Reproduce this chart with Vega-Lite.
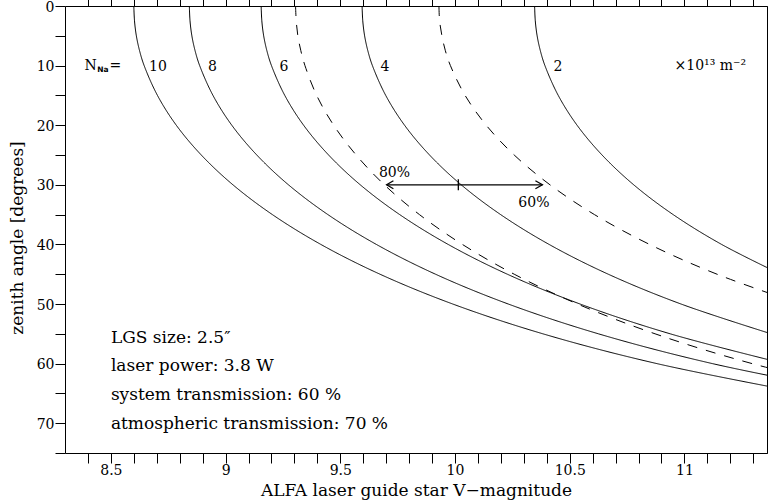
{
  "$schema": "https://vega.github.io/schema/vega-lite/v6.json",
  "width": 702,
  "height": 447,
  "autosize": {"type": "none"},
  "padding": {"left": 65, "top": 6, "right": 1, "bottom": 48},
  "background": "white",
  "config": {
    "view": {"stroke": null},
    "axis": {
      "domainColor": "black", "tickColor": "black", "labelColor": "black", "titleColor": "black",
      "labelFont": "DejaVu Serif", "titleFont": "DejaVu Serif", "labelFontSize": 14, "titleFontSize": 17,
      "titleFontWeight": "normal", "grid": false, "domainWidth": 1, "tickWidth": 1,
      "labelOverlap": false, "labelFlush": false
    }
  },
  "datasets": {
    "curves": [
      {"c":"10","t":"solid","z":0,"x":8.600},{"c":"10","t":"solid","z":2.5,"x":8.603},{"c":"10","t":"solid","z":5,"x":8.611},{"c":"10","t":"solid","z":7.5,"x":8.625},{"c":"10","t":"solid","z":10,"x":8.645},{"c":"10","t":"solid","z":15,"x":8.703},{"c":"10","t":"solid","z":20,"x":8.785},{"c":"10","t":"solid","z":25,"x":8.894},{"c":"10","t":"solid","z":30,"x":9.032},{"c":"10","t":"solid","z":35,"x":9.204},{"c":"10","t":"solid","z":40,"x":9.415},{"c":"10","t":"solid","z":45,"x":9.673},{"c":"10","t":"solid","z":50,"x":9.990},{"c":"10","t":"solid","z":55,"x":10.383},{"c":"10","t":"solid","z":60,"x":10.880},{"c":"10","t":"solid","z":65,"x":11.528},
      {"c":"8","t":"solid","z":0,"x":8.842},{"c":"8","t":"solid","z":2.5,"x":8.845},{"c":"8","t":"solid","z":5,"x":8.853},{"c":"8","t":"solid","z":7.5,"x":8.867},{"c":"8","t":"solid","z":10,"x":8.887},{"c":"8","t":"solid","z":15,"x":8.945},{"c":"8","t":"solid","z":20,"x":9.027},{"c":"8","t":"solid","z":25,"x":9.136},{"c":"8","t":"solid","z":30,"x":9.274},{"c":"8","t":"solid","z":35,"x":9.446},{"c":"8","t":"solid","z":40,"x":9.657},{"c":"8","t":"solid","z":45,"x":9.915},{"c":"8","t":"solid","z":50,"x":10.232},{"c":"8","t":"solid","z":55,"x":10.625},{"c":"8","t":"solid","z":60,"x":11.122},{"c":"8","t":"solid","z":65,"x":11.770},
      {"c":"6","t":"solid","z":0,"x":9.155},{"c":"6","t":"solid","z":2.5,"x":9.158},{"c":"6","t":"solid","z":5,"x":9.166},{"c":"6","t":"solid","z":7.5,"x":9.180},{"c":"6","t":"solid","z":10,"x":9.200},{"c":"6","t":"solid","z":15,"x":9.258},{"c":"6","t":"solid","z":20,"x":9.340},{"c":"6","t":"solid","z":25,"x":9.449},{"c":"6","t":"solid","z":30,"x":9.587},{"c":"6","t":"solid","z":35,"x":9.759},{"c":"6","t":"solid","z":40,"x":9.970},{"c":"6","t":"solid","z":45,"x":10.228},{"c":"6","t":"solid","z":50,"x":10.545},{"c":"6","t":"solid","z":55,"x":10.938},{"c":"6","t":"solid","z":60,"x":11.435},
      {"c":"4","t":"solid","z":0,"x":9.595},{"c":"4","t":"solid","z":2.5,"x":9.598},{"c":"4","t":"solid","z":5,"x":9.606},{"c":"4","t":"solid","z":7.5,"x":9.620},{"c":"4","t":"solid","z":10,"x":9.640},{"c":"4","t":"solid","z":15,"x":9.698},{"c":"4","t":"solid","z":20,"x":9.780},{"c":"4","t":"solid","z":25,"x":9.889},{"c":"4","t":"solid","z":30,"x":10.027},{"c":"4","t":"solid","z":35,"x":10.199},{"c":"4","t":"solid","z":40,"x":10.410},{"c":"4","t":"solid","z":45,"x":10.668},{"c":"4","t":"solid","z":50,"x":10.985},{"c":"4","t":"solid","z":55,"x":11.378},
      {"c":"2","t":"solid","z":0,"x":10.347},{"c":"2","t":"solid","z":2.5,"x":10.350},{"c":"2","t":"solid","z":5,"x":10.358},{"c":"2","t":"solid","z":7.5,"x":10.372},{"c":"2","t":"solid","z":10,"x":10.392},{"c":"2","t":"solid","z":15,"x":10.450},{"c":"2","t":"solid","z":20,"x":10.532},{"c":"2","t":"solid","z":25,"x":10.641},{"c":"2","t":"solid","z":30,"x":10.779},{"c":"2","t":"solid","z":35,"x":10.951},{"c":"2","t":"solid","z":40,"x":11.162},{"c":"2","t":"solid","z":45,"x":11.420},
      {"c":"4-80","t":"dashed","z":0,"x":9.305},{"c":"4-80","t":"dashed","z":2.5,"x":9.308},{"c":"4-80","t":"dashed","z":5,"x":9.315},{"c":"4-80","t":"dashed","z":7.5,"x":9.328},{"c":"4-80","t":"dashed","z":10,"x":9.346},{"c":"4-80","t":"dashed","z":15,"x":9.397},{"c":"4-80","t":"dashed","z":20,"x":9.471},{"c":"4-80","t":"dashed","z":25,"x":9.569},{"c":"4-80","t":"dashed","z":30,"x":9.692},{"c":"4-80","t":"dashed","z":35,"x":9.845},{"c":"4-80","t":"dashed","z":40,"x":10.032},{"c":"4-80","t":"dashed","z":45,"x":10.258},{"c":"4-80","t":"dashed","z":50,"x":10.534},{"c":"4-80","t":"dashed","z":55,"x":10.872},{"c":"4-80","t":"dashed","z":60,"x":11.295},{"c":"4-80","t":"dashed","z":65,"x":11.837},
      {"c":"4-60","t":"dashed","z":0,"x":9.930},{"c":"4-60","t":"dashed","z":2.5,"x":9.933},{"c":"4-60","t":"dashed","z":5,"x":9.943},{"c":"4-60","t":"dashed","z":7.5,"x":9.958},{"c":"4-60","t":"dashed","z":10,"x":9.980},{"c":"4-60","t":"dashed","z":15,"x":10.044},{"c":"4-60","t":"dashed","z":20,"x":10.136},{"c":"4-60","t":"dashed","z":25,"x":10.258},{"c":"4-60","t":"dashed","z":30,"x":10.414},{"c":"4-60","t":"dashed","z":35,"x":10.608},{"c":"4-60","t":"dashed","z":40,"x":10.848},{"c":"4-60","t":"dashed","z":45,"x":11.142},{"c":"4-60","t":"dashed","z":50,"x":11.506}
    ],
    "arrow": [
      {"seg":"shaft","o":1,"x":9.702,"z":30},{"seg":"shaft","o":2,"x":10.381,"z":30},
      {"seg":"headL","o":1,"x":9.7315,"z":29.33},{"seg":"headL","o":2,"x":9.702,"z":30},{"seg":"headL","o":3,"x":9.7315,"z":30.67},
      {"seg":"headR","o":1,"x":10.3505,"z":29.33},{"seg":"headR","o":2,"x":10.381,"z":30},{"seg":"headR","o":3,"x":10.3505,"z":30.67},
      {"seg":"tick","o":1,"x":10.0145,"z":29.05},{"seg":"tick","o":2,"x":10.0145,"z":30.9}
    ],
    "curveLabels": [
      {"label":"10","x":8.7054,"z":10.9},{"label":"8","x":8.943,"z":10.9},{"label":"6","x":9.2547,"z":10.9},
      {"label":"4","x":9.695,"z":10.9},{"label":"2","x":10.449,"z":10.9},
      {"label":"80%","x":9.7363,"z":28.7},{"label":"60%","x":10.344,"z":33.7}
    ],
    "leftLabels": [
      {"label":"N","x":8.385,"z":10.82},{"label":"=","x":8.4935,"z":10.82},{"label":"×10¹³ m⁻²","x":10.957,"z":10.82}
    ],
    "subLabels": [
      {"label":"Na","x":8.4405,"z":11.12}
    ],
    "notes": [
      {"label":"LGS size: 2.5″","x":8.5,"z":56.5},
      {"label":"laser power: 3.8 W","x":8.5,"z":61.3},
      {"label":"system transmission: 60 %","x":8.5,"z":66.1},
      {"label":"atmospheric transmission: 70 %","x":8.5,"z":70.9}
    ]
  },
  "resolve": {"axis": {"x": "independent", "y": "independent"}},
  "layer": [
    {
      "data": {"name": "curves"},
      "mark": {"type": "line", "clip": true, "color": "black", "strokeWidth": 1, "interpolate": "catmull-rom"},
      "encoding": {
        "x": {"field": "x", "type": "quantitative",
          "scale": {"domain": [8.3, 11.36], "nice": false, "zero": false},
          "axis": {"orient": "bottom",
            "values": [8.4,8.5,8.6,8.7,8.8,8.9,9,9.1,9.2,9.3,9.4,9.5,9.6,9.7,9.8,9.9,10,10.1,10.2,10.3,10.4,10.5,10.6,10.7,10.8,10.9,11,11.1,11.2,11.3],
            "labelExpr": "datum.value % 0.5 == 0 ? '' + datum.value : ''",
            "tickSize": 10, "labelPadding": 0,
            "title": "ALFA laser guide star V−magnitude", "titleY": 42, "titleBaseline": "alphabetic",
            "encode": {"ticks": {"update": {"y2": {"signal": "datum.value % 0.5 == 0 ? -10 : -5"}}}}
          }},
        "y": {"field": "z", "type": "quantitative",
          "scale": {"domain": [0, 75], "reverse": true, "nice": false, "zero": false},
          "axis": {"orient": "left",
            "values": [0,5,10,15,20,25,30,35,40,45,50,55,60,65,70,75],
            "labelExpr": "datum.value % 10 == 0 ? '' + datum.value : ''",
            "tickSize": 10, "labelPadding": 1, "labelOffset": 1,
            "title": "zenith angle [degrees]", "titleX": -43, "titleY": 231.5, "titleBaseline": "alphabetic",
            "encode": {"ticks": {"update": {"x2": {"signal": "datum.value % 10 == 0 ? 10 : 5"}}}}
          }},
        "detail": {"field": "c"},
        "order": {"field": "z", "type": "quantitative"},
        "strokeDash": {"field": "t", "type": "nominal", "scale": {"domain": ["solid", "dashed"], "range": [[1, 0], [10, 9]]}, "legend": null}
      }
    },
    {
      "data": {"name": "curveLabels"},
      "mark": {"type": "text", "font": "DejaVu Serif", "fontSize": 14, "color": "black", "align": "center", "baseline": "alphabetic"},
      "encoding": {
        "x": {"field": "x", "type": "quantitative",
          "scale": {"domain": [8.3, 11.36], "nice": false, "zero": false},
          "axis": {"orient": "top",
            "values": [8.4,8.5,8.6,8.7,8.8,8.9,9,9.1,9.2,9.3,9.4,9.5,9.6,9.7,9.8,9.9,10,10.1,10.2,10.3,10.4,10.5,10.6,10.7,10.8,10.9,11,11.1,11.2,11.3],
            "labels": false, "title": null, "tickSize": 10,
            "encode": {"ticks": {"update": {"y2": {"signal": "datum.value % 0.5 == 0 ? 10 : 5"}}}}
          }},
        "y": {"field": "z", "type": "quantitative",
          "scale": {"domain": [0, 75], "reverse": true, "nice": false, "zero": false},
          "axis": {"orient": "right",
            "values": [0,5,10,15,20,25,30,35,40,45,50,55,60,65,70,75],
            "labels": false, "title": null, "tickSize": 10,
            "encode": {"ticks": {"update": {"x2": {"signal": "datum.value % 10 == 0 ? -10 : -5"}}}}
          }},
        "text": {"field": "label"}
      }
    },
    {
      "data": {"name": "arrow"},
      "mark": {"type": "line", "color": "black", "strokeWidth": 1.3},
      "encoding": {
        "x": {"field": "x", "type": "quantitative", "axis": null},
        "y": {"field": "z", "type": "quantitative", "axis": null},
        "detail": {"field": "seg"},
        "order": {"field": "o", "type": "quantitative"}
      }
    },
    {
      "data": {"name": "leftLabels"},
      "mark": {"type": "text", "font": "DejaVu Serif", "fontSize": 14, "color": "black", "align": "left", "baseline": "alphabetic"},
      "encoding": {
        "x": {"field": "x", "type": "quantitative", "axis": null},
        "y": {"field": "z", "type": "quantitative", "axis": null},
        "text": {"field": "label"}
      }
    },
    {
      "data": {"name": "subLabels"},
      "mark": {"type": "text", "font": "DejaVu Sans", "fontSize": 7.5, "fontWeight": "bold", "color": "black", "align": "left", "baseline": "alphabetic"},
      "encoding": {
        "x": {"field": "x", "type": "quantitative", "axis": null},
        "y": {"field": "z", "type": "quantitative", "axis": null},
        "text": {"field": "label"}
      }
    },
    {
      "data": {"name": "notes"},
      "mark": {"type": "text", "font": "DejaVu Serif", "fontSize": 17, "color": "black", "align": "left", "baseline": "alphabetic"},
      "encoding": {
        "x": {"field": "x", "type": "quantitative", "axis": null},
        "y": {"field": "z", "type": "quantitative", "axis": null},
        "text": {"field": "label"}
      }
    }
  ]
}
